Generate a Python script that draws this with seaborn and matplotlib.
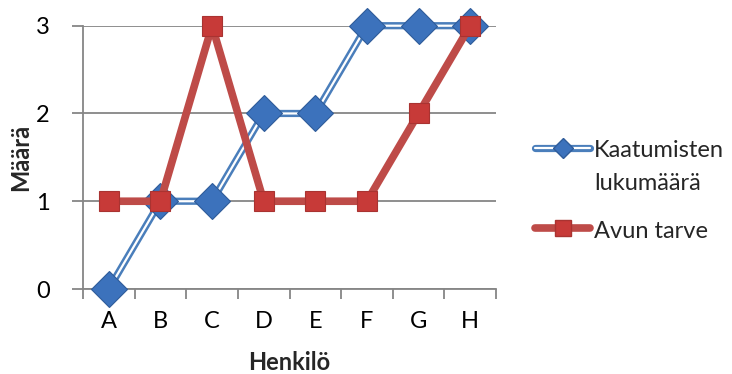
import matplotlib
matplotlib.use("Agg")
import matplotlib.pyplot as plt
from matplotlib.lines import Line2D
import seaborn as sns
import pandas as pd

categories = ["A", "B", "C", "D", "E", "F", "G", "H"]
kaatumiset = [0, 1, 1, 2, 2, 3, 3, 3]
avun_tarve = [1, 1, 3, 1, 1, 1, 2, 3]
y_ticks = [0, 1, 2, 3]

df = pd.DataFrame({"Henkilö": categories,
                   "Kaatumisten lukumäärä": kaatumiset,
                   "Avun tarve": avun_tarve})

sns.set_theme(style="white")
plt.rcParams["font.family"] = ["Lato", "DejaVu Sans"]

BLUE = "#4A7EBB"
BLUE_MK = "#3C72BC"
BLUE_EDGE = "#2F5C9A"
RED = "#BE4B48"
RED_MK = "#C73A38"
RED_EDGE = "#A93331"
GRID = "#868686"
FS = 17

W, H = 732, 374
fig = plt.figure(figsize=(W / 100, H / 100), dpi=100)
ax_left, ax_right, ax_top, ax_bottom = 83, 496, 25.7, 289
ax = fig.add_axes([ax_left / W, 1 - ax_bottom / H,
                   (ax_right - ax_left) / W, (ax_bottom - ax_top) / H])

# double-line series: thick blue stroke with a thin white core
sns.lineplot(data=df, x="Henkilö", y="Kaatumisten lukumäärä", ax=ax,
             color=BLUE, lw=5.2, sort=False, zorder=3, clip_on=False)
sns.lineplot(data=df, x="Henkilö", y="Kaatumisten lukumäärä", ax=ax,
             color="white", lw=1.6, sort=False, zorder=3.1, clip_on=False)
sns.lineplot(data=df, x="Henkilö", y="Kaatumisten lukumäärä", ax=ax,
             lw=0, marker="D", markersize=18, markerfacecolor=BLUE_MK,
             markeredgecolor=BLUE_EDGE, markeredgewidth=0.8, sort=False,
             zorder=3.2, clip_on=False)
sns.lineplot(data=df, x="Henkilö", y="Avun tarve", ax=ax,
             color=RED, lw=5.5, marker="s", markersize=14.5,
             markerfacecolor=RED_MK, markeredgecolor=RED_EDGE,
             markeredgewidth=0.8, sort=False, zorder=4, clip_on=False)

ax.set_xlim(-0.5, len(categories) - 0.5)
ax.set_ylim(0, 3)
ax.set_yticks(y_ticks)
ax.set_xticks(range(len(categories)))
ax.set_xticklabels(categories)
ax.set_xticks([i - 0.5 for i in range(len(categories) + 1)], minor=True)
ax.tick_params(axis="x", which="major", length=0, pad=16, labelsize=FS, colors="black")
ax.tick_params(axis="x", which="minor", length=7, width=1.3, color=GRID, direction="out", bottom=True)
ax.tick_params(axis="y", which="major", length=8, width=1.3, color=GRID, direction="out",
               left=True, pad=16, labelsize=FS, labelcolor="black")

ax.grid(axis="y", color=GRID, lw=1.3)
ax.grid(axis="x", visible=False)
for side in ["top", "right"]:
    ax.spines[side].set_visible(False)
for side in ["left", "bottom"]:
    ax.spines[side].set_color(GRID)
    ax.spines[side].set_linewidth(1.3)
ax.set_axisbelow(True)

ax.set_xlabel("Henkilö", fontsize=FS, fontweight="bold")
ax.set_ylabel("Määrä", fontsize=FS, fontweight="bold")
ax.xaxis.label.set_va("center")
ax.yaxis.label.set_va("center")
ax.xaxis.set_label_coords(0.5, -(362 - ax_bottom) / (ax_bottom - ax_top))
ax.yaxis.set_label_coords(-(ax_left - 21) / (ax_right - ax_left), 0.5)

# legend drawn as figure artists
def fx(px):
    return px / W

def fy(py):
    return 1 - py / H

x0, x1, xm = 535, 590, 563
y_blue, y_red = 148, 228
fig.add_artist(Line2D([fx(x0), fx(x1)], [fy(y_blue)] * 2, color=BLUE, lw=5.2,
                      transform=fig.transFigure, solid_capstyle="round"))
fig.add_artist(Line2D([fx(x0), fx(x1)], [fy(y_blue)] * 2, color="white", lw=1.6,
                      transform=fig.transFigure))
fig.add_artist(Line2D([fx(xm)], [fy(y_blue)], lw=0, marker="D", markersize=10,
                      markerfacecolor=BLUE_MK, markeredgecolor=BLUE_EDGE,
                      transform=fig.transFigure))
fig.add_artist(Line2D([fx(x0), fx(x1)], [fy(y_red)] * 2, color=RED, lw=5.5,
                      transform=fig.transFigure, solid_capstyle="round"))
fig.add_artist(Line2D([fx(xm)], [fy(y_red)], lw=0, marker="s", markersize=11,
                      markerfacecolor=RED_MK, markeredgecolor=RED_EDGE,
                      transform=fig.transFigure))
fig.text(fx(594), fy(157), "Kaatumisten", fontsize=FS, va="baseline", ha="left")
fig.text(fx(594), fy(190), "lukumäärä", fontsize=FS, va="baseline", ha="left")
fig.text(fx(594), fy(238), "Avun tarve", fontsize=FS, va="baseline", ha="left")

fig.savefig("out.png", dpi=100, facecolor="white")
